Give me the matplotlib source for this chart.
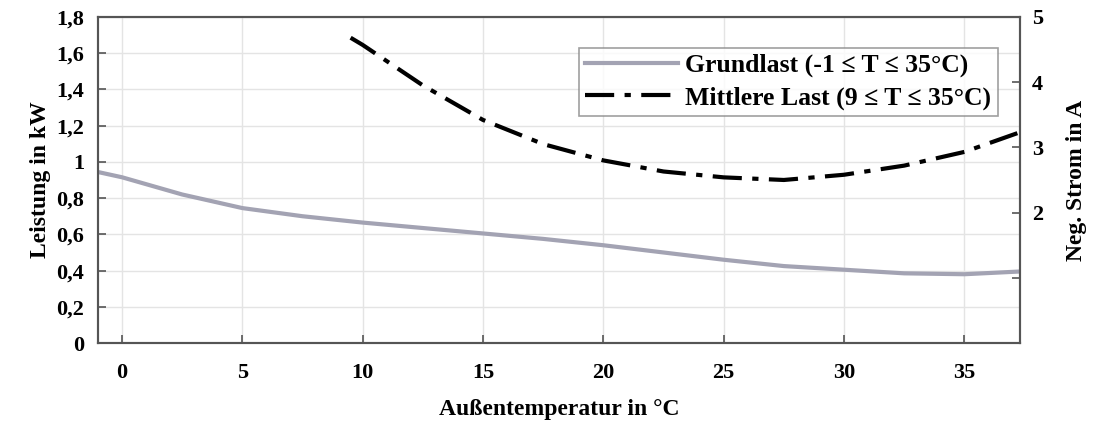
import matplotlib.pyplot as plt
import numpy as np

# Grundlast (left axis, kW)
t_grund = [-1, 0, 2.5, 5, 7.5, 10, 12.5, 15, 17.5, 20, 22.5, 25, 27.5, 30, 32.5, 35, 37.3]
p_grund = [0.944, 0.915, 0.82, 0.745, 0.70, 0.665, 0.635, 0.605, 0.575, 0.54, 0.50, 0.46, 0.425, 0.405, 0.385, 0.38, 0.395]

# Mittlere Last (right axis, A)
t_mittel = [9.5, 10, 12.5, 15, 17.5, 20, 22.5, 25, 27.5, 30, 32.5, 35, 37.3]
i_mittel = [4.68, 4.57, 3.95, 3.42, 3.05, 2.80, 2.63, 2.54, 2.50, 2.58, 2.72, 2.93, 3.23]

x_ticks = [0, 5, 10, 15, 20, 25, 30, 35]
y_ticks = [0, 0.2, 0.4, 0.6, 0.8, 1, 1.2, 1.4, 1.6, 1.8]
y_labels = ['0', '0,2', '0,4', '0,6', '0,8', '1', '1,2', '1,4', '1,6', '1,8']
y2_ticks = [1, 2, 3, 4, 5]
y2_labels = ['', '2', '3', '4', '5']

plt.rcParams['font.family'] = ['Liberation Serif', 'DejaVu Serif']
plt.rcParams['font.weight'] = 'bold'

fig = plt.figure(figsize=(11, 4.21), dpi=100)
ax = fig.add_axes([0.089, 0.185, 0.838, 0.775])
ax2 = ax.twinx()

l1, = ax.plot(t_grund, p_grund, color='#a3a3b3', lw=3, label='Grundlast (-1 ≤ T ≤ 35°C)')
l2, = ax2.plot(t_mittel, i_mittel, color='black', lw=3, dashes=(7, 2.5, 1.5, 2.5),
               label='Mittlere Last (9 ≤ T ≤ 35°C)')

ax.set_xlim(-1, 37.3)
ax.set_ylim(0, 1.8)
ax2.set_ylim(0, 5)
ax.set_xticks(x_ticks)
ax.set_yticks(y_ticks)
ax.set_yticklabels(y_labels)
ax2.set_yticks(y2_ticks)
ax2.set_yticklabels(y2_labels)

ax.grid(True, color='#e4e4e4', lw=1)
ax.set_axisbelow(True)
for a in (ax, ax2):
    a.tick_params(direction='in', labelsize=16, length=6, color='#555555', width=1.2)
    for s in a.spines.values():
        s.set_color('#555555')
        s.set_linewidth(1.5)
ax.tick_params(axis='x', pad=14)
ax.tick_params(axis='y', pad=10)
ax2.tick_params(axis='y', pad=9)

ax.set_xlabel('Außentemperatur in °C', fontsize=17, fontweight='bold', labelpad=12)
ax.set_ylabel('Leistung in kW', fontsize=17, fontweight='bold', labelpad=4)
ax2.set_ylabel('Neg. Strom in A', fontsize=17, fontweight='bold', labelpad=16)

leg = ax2.legend(handles=[l1, l2], loc='upper right', bbox_to_anchor=(0.99, 0.945),
                 fontsize=18.5, frameon=True, fancybox=False, edgecolor='#888888',
                 handlelength=3.6, handletextpad=0.3, borderpad=0.25, labelspacing=0.35)
leg.get_frame().set_linewidth(1.2)

fig.savefig('out.png', dpi=100)
